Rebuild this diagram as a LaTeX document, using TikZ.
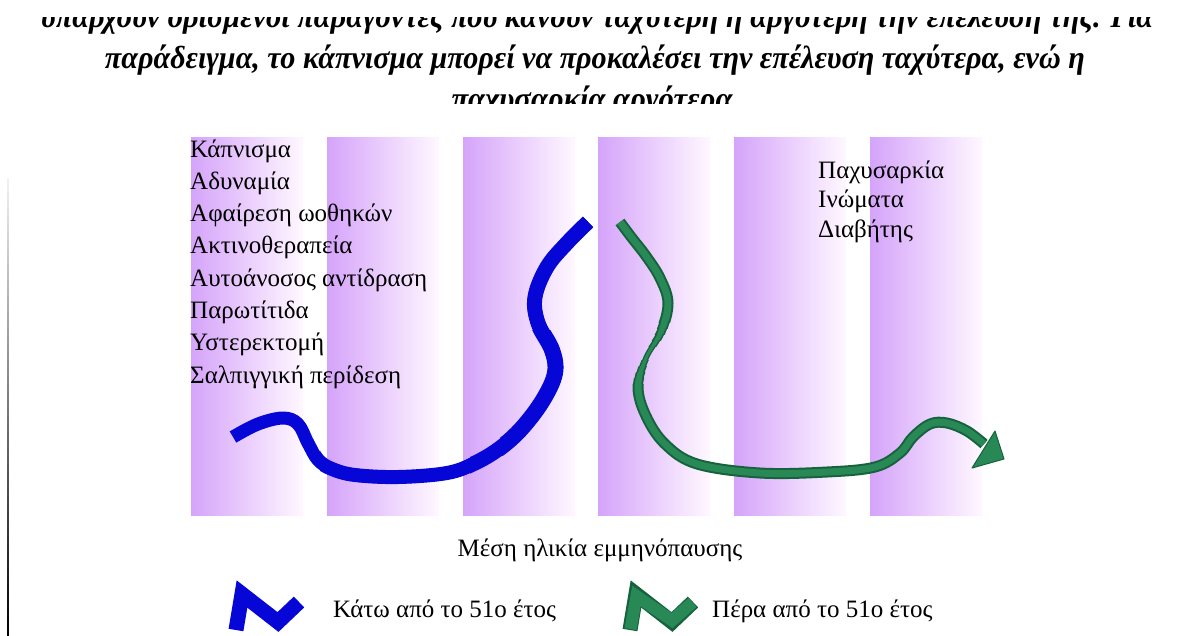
\documentclass[tikz,border=0pt]{standalone}
\usepackage{fontspec}
\usepackage{graphicx}
\setmainfont{Liberation Serif}
\definecolor{stripeL}{RGB}{213,164,250}
\definecolor{stripeR}{RGB}{255,248,255}
\definecolor{ribblue}{RGB}{6,6,215}
\definecolor{ribgreen}{RGB}{40,136,86}
\definecolor{ribgreendark}{RGB}{22,98,60}
\tikzset{
  toptext/.style={font=\fontsize{32}{38}\selectfont\bfseries\itshape, inner sep=0pt, anchor=base},
  item/.style={font=\fontsize{25}{30}\selectfont, inner sep=0pt, anchor=base west, text=black},
  stripebox/.style={left color=stripeL, right color=stripeR},
  bluerib/.style={draw=ribblue, line cap=butt, line join=round},
  greendark/.style={draw=ribgreendark, line cap=butt, line join=round},
  greenin/.style={draw=ribgreen, line cap=butt, line join=round},
}
\newcommand{\greenband}[4]{%
  \begin{scope}
  \clip (0,#1) rectangle (1177,#2);
  \draw[greendark, line width=#3pt, use path=\greenp];
  \draw[greenin, line width=#4pt, use path=\greenp];
  \end{scope}}
\begin{document}
\begin{tikzpicture}[x=1pt,y=-1pt]
\useasboundingbox (0,0) rectangle (1177,635);
\fill[white] (0,0) rectangle (1177,635);

% left thin edge line
\shade[top color=gray!10, bottom color=black] (7.2,178) rectangle (8.8,635);

% stripes
\foreach \xx in {191,327,463,598,734,870} {
  \shade[stripebox] (\xx,137) rectangle ++(112,378);
}

% top text (cropped)
\begin{scope}
\clip (0,17) rectangle (1177,103);
\node[toptext] (t1) at (597,27) {\resizebox{1112pt}{\height}{υπάρχουν ορισμένοι παράγοντες που κάνουν ταχύτερη ή αργότερη την επέλευση της. Για}};
\node[toptext] (t2) at (595,68) {\resizebox{980pt}{\height}{παράδειγμα, το κάπνισμα μπορεί να προκαλέσει την επέλευση ταχύτερα, ενώ η}};
\node[toptext] (t3) at (592,109) {\resizebox{281pt}{\height}{παχυσαρκία αργότερα}};
\end{scope}

% left list
\node[item] (l1) at (190,157) {Κάπνισμα};
\node[item] (l2) at (190,189.3) {Αδυναμία};
\node[item] (l3) at (190,221.6) {Αφαίρεση ωοθηκών};
\node[item] (l4) at (190,253.9) {Ακτινοθεραπεία};
\node[item] (l5) at (190,286.2) {Αυτοάνοσος αντίδραση};
\node[item] (l6) at (190,318.5) {Παρωτίτιδα};
\node[item] (l7) at (190,350.8) {Υστερεκτομή};
\node[item] (l8) at (190,383) {Σαλπιγγική περίδεση};

% right list
\node[item] (r1) at (818,178) {Παχυσαρκία};
\node[item] (r2) at (818,207.5) {Ινώματα};
\node[item] (r3) at (818,237) {Διαβήτης};

% blue ribbon
\path[save path=\bluep] plot[smooth,tension=0.6] coordinates {(233,437) (258,424) (283,418) (298,424) (308,443) (318,460) (332,469) (355,475) (398,477) (447,473) (475,463) (500,448) (522,428) (543,400) (555,373) (552,350) (538,323) (535,297) (547,267) (567,243) (588,222)};
\draw[bluerib, line width=13pt, use path=\bluep];
\begin{scope}
\clip (320,0) rectangle (1177,635);
\draw[bluerib, line width=14pt, use path=\bluep];
\end{scope}
\begin{scope}
\clip (470,0) rectangle (1177,635);
\draw[bluerib, line width=15pt, use path=\bluep];
\end{scope}
\begin{scope}
\clip (500,330) rectangle (1177,455);
\draw[bluerib, line width=16pt, use path=\bluep];
\end{scope}

% green ribbon
\path[save path=\greenp] plot[smooth,tension=0.6] coordinates {(620,222) (632,238) (646,256) (660,278) (668,303) (661,332) (646,358) (638,387) (646,416) (665,444) (697,464) (760,473) (827,472) (875,467) (900,453) (913,437) (930,424) (947,423) (967,431) (984,444)};
\greenband{0}{322}{11}{7}
\greenband{322}{328}{10}{6.3}
\greenband{328}{334}{9}{5.5}
\greenband{334}{340}{7.8}{4.5}
\greenband{340}{346}{6.6}{3.6}
\greenband{346}{360}{5.6}{3}
\greenband{360}{366}{6.6}{3.6}
\greenband{366}{372}{7.8}{4.5}
\greenband{372}{378}{9}{5.5}
\greenband{378}{384}{10}{6.3}
\greenband{384}{635}{11}{7}
\filldraw[fill=ribgreen, draw=ribgreendark, line width=1pt, line join=round] (995,431) -- (1004,459) -- (972,468) -- cycle;

% bottom label
\node[item, anchor=base] (m) at (600,556) {Μέση ηλικία εμμηνόπαυσης};

% legend
\draw[ribblue, line width=15pt, line join=miter] (236,630) -- (242,594) -- (278,622) -- (299,602);
\node[item] (k1) at (333,617) {Κάτω από το 51ο έτος};
\draw[ribgreendark, line width=15pt, line join=miter] (630,630) -- (636,594) -- (672,622) -- (693,602);
\draw[ribgreen, line width=12pt, line join=miter] (630.5,629) -- (636.5,596) -- (672,620.5) -- (692.5,602.5);
\node[item] (k2) at (712,617) {Πέρα από το 51ο έτος};
\end{tikzpicture}
\end{document}
